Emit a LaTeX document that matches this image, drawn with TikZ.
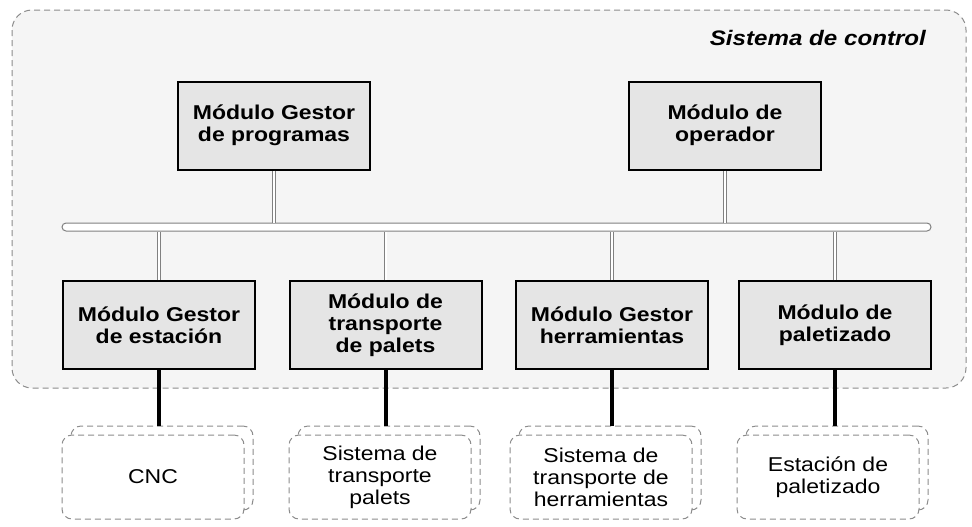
\documentclass[tikz,border=0pt]{standalone}
\usepackage{fontspec}
\setmainfont{Liberation Sans}[FakeStretch=1.15]
\begin{document}
\begin{tikzpicture}[x=0.5pt,y=-0.5pt,
  container/.style={draw=black!45, densely dashed, line width=0.5pt, fill=black!4, rounded corners=10pt},
  modbox/.style={draw=black, line width=1pt, fill=black!10, minimum width=96pt, minimum height=44pt,
    align=center, inner sep=2pt, font=\fontsize{10}{11}\selectfont\bfseries},
  sysbox/.style={draw=black!45, densely dashed, line width=0.5pt, fill=white, rounded corners=5pt,
    minimum width=91pt, minimum height=42pt, align=center, inner sep=2pt,
    font=\fontsize{10}{11}\selectfont},
  busbar/.style={draw=black!50, line width=0.5pt, fill=white, rounded corners=2pt,
    minimum width=434.5pt, minimum height=4pt, inner sep=0pt},
  buslink/.style={draw=black!50, line width=0.4pt, double=white, double distance=1pt},
  hardlink/.style={draw=black, line width=2pt}
]
\useasboundingbox (0,0) rectangle (972,526);
\fill[white] (0,0) rectangle (972,526);

% control system frame
\draw[container] (12,10) rectangle (966,388);
\node[anchor=base east, font=\fontsize{10.5}{12}\selectfont\bfseries\itshape] (title) at (933,45) {Sistema de control};

% shared bus
\node[busbar] (bus) at (496.5,227) {};

% upper modules
\node[modbox] (prog) at (274,125.5) {Módulo Gestor\\de programas};
\node[modbox] (oper) at (725,125.5) {Módulo de\\operador};

% lower modules
\node[modbox] (est) at (159,325) {Módulo Gestor\\de estación};
\node[modbox] (tpal) at (385.5,325) {Módulo de\\transporte\\de palets};
\node[modbox] (herr) at (612,325) {Módulo Gestor\\herramientas};
\node[modbox] (pale) at (835,325) {Módulo de\\paletizado};

% bus connections
\draw[buslink] (prog.south) -- (prog.south |- bus.north);
\draw[buslink] (oper.south) -- (oper.south |- bus.north);
\draw[buslink] (est.north) -- (est.north |- bus.south);
\draw[buslink] (tpal.north) -- (tpal.north |- bus.south);
\draw[buslink] (herr.north) -- (herr.north |- bus.south);
\draw[buslink] (pale.north) -- (pale.north |- bus.south);

% physical systems (stacked)
\node[sysbox] (cncb) at (162,468) {};
\node[sysbox] (cnc) at (153,477) {CNC};
\node[sysbox] (stpb) at (389,468) {};
\node[sysbox] (stp) at (380,477) {Sistema de\\transporte\\palets};
\node[sysbox] (sthb) at (610,468) {};
\node[sysbox] (sth) at (601,477) {Sistema de\\transporte de\\herramientas};
\node[sysbox] (epb) at (837,468) {};
\node[sysbox] (ep) at (828,477) {Estación de\\paletizado};

% module to system links
\draw[hardlink] (est.south) -- (est.south |- cncb.north);
\draw[hardlink] (tpal.south) -- (tpal.south |- stpb.north);
\draw[hardlink] (herr.south) -- (herr.south |- sthb.north);
\draw[hardlink] (pale.south) -- (pale.south |- epb.north);
\end{tikzpicture}
\end{document}
